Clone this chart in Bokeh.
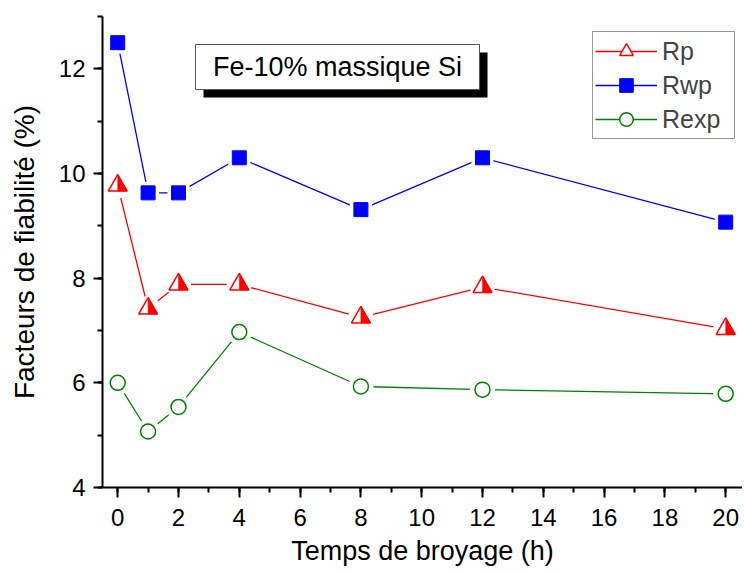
import math
from bokeh.plotting import figure
from bokeh.models import (Range1d, SingleIntervalTicker, Legend, LegendItem,
                          BoxAnnotation, Label)
from bokeh.embed import file_html
from bokeh.resources import INLINE

# ---- data ----
hours = [0, 1, 2, 4, 8, 12, 20]
rp = [9.77, 7.42, 7.88, 7.88, 7.25, 7.83, 7.03]
rwp = [12.5, 9.63, 9.63, 10.3, 9.31, 10.3, 9.07]
rexp = [6.0, 5.07, 5.54, 6.97, 5.93, 5.87, 5.79]
series_labels = ["Rp", "Rwp", "Rexp"]
title_text = "Fe-10% massique Si"
x_label = "Temps de broyage (h)"
y_label = "Facteurs de fiabilité (%)"

FONT = "Liberation Sans"
X0, X1 = -0.5, 20.553
Y0, Y1 = 4.0, 13.0
FW, FH = 640, 471
RED, BLUE, GREEN = "#ff0000", "#0000ff", "#008000"

p = figure(frame_width=FW, frame_height=FH, output_backend="svg",
           toolbar_location=None,
           x_range=Range1d(X0, X1), y_range=Range1d(Y0, Y1),
           min_border_left=102, min_border_right=0, min_border_top=16,
           min_border_bottom=79)
p.outline_line_color = None
p.background_fill_color = "white"
p.border_fill_color = "white"
p.xgrid.visible = False
p.ygrid.visible = False

for ax, tick_out in ((p.xaxis[0], 10), (p.yaxis[0], 9)):
    ax.ticker = SingleIntervalTicker(interval=2, num_minor_ticks=2)
    ax.axis_line_width = 2
    ax.major_tick_line_width = 2
    ax.minor_tick_line_width = 2
    ax.major_tick_out = tick_out
    ax.major_tick_in = 0
    ax.minor_tick_out = 5
    ax.minor_tick_in = 0
    ax.major_label_text_font = FONT
    ax.major_label_text_font_size = "24px"
    ax.major_label_text_color = "black"
    ax.axis_label_text_font = FONT
    ax.axis_label_text_font_style = "normal"
    ax.axis_label_text_color = "black"

p.xaxis.axis_label = x_label
p.xaxis.axis_label_text_font_size = "27px"
p.xaxis.major_label_standoff = 11
p.xaxis.axis_label_standoff = 7
p.yaxis.axis_label = y_label
p.yaxis.axis_label_text_font_size = "28px"
p.yaxis.major_label_standoff = 8
p.yaxis.axis_label_standoff = 16

# lines
l_rp = p.line(hours, rp, line_color=RED, line_width=1.3)
l_rwp = p.line(hours, rwp, line_color=BLUE, line_width=1.3)
l_rexp = p.line(hours, rexp, line_color=GREEN, line_width=1.3)

# white halos (gaps between line and markers)
p.scatter(hours, rp, marker="circle", size=25, fill_color="white", line_color=None)
p.scatter(hours, rwp, marker="square", size=22, fill_color="white", line_color=None)
p.scatter(hours, rexp, marker="circle", size=25, fill_color="white", line_color=None)

# markers
TRI = 19
m_rp = p.scatter(hours, rp, marker="triangle", size=TRI, fill_color="white",
                 line_color=RED, line_width=1.5)
# right half of the triangle filled
xpp = (X1 - X0) / FW
ypp = (Y1 - Y0) / FH
r = TRI / 2.0
h = r * math.sqrt(3)
a = h / 3.0
hx = [[xv, xv, xv + r * xpp] for xv in hours]
hy = [[yv + (h - a) * ypp, yv - a * ypp, yv - a * ypp] for yv in rp]
p.patches(hx, hy, fill_color=RED, line_color=RED, line_width=0.5)

m_rwp = p.scatter(hours, rwp, marker="square", size=14, fill_color=BLUE,
                  line_color=BLUE, line_width=1)
m_rexp = p.scatter(hours, rexp, marker="circle", size=15, fill_color="white",
                   line_color=GREEN, line_width=1.5)

legend = Legend(items=[
    LegendItem(label=series_labels[0], renderers=[l_rp, m_rp]),
    LegendItem(label=series_labels[1], renderers=[l_rwp, m_rwp]),
    LegendItem(label=series_labels[2], renderers=[l_rexp, m_rexp]),
], location=(490, 348))
legend.label_text_font = FONT
legend.label_text_font_size = "25px"
legend.glyph_width = 62
legend.glyph_height = 34
legend.spacing = -1
legend.padding = 2
legend.margin = 0
legend.label_standoff = 5
legend.label_width = 70
legend.border_line_color = "#333333"
legend.border_line_width = 1
legend.background_fill_alpha = 1
p.add_layout(legend, "center")

# title box with shadow
shadow = BoxAnnotation(left=203, right=487, top=52, bottom=97,
                       left_units="canvas", right_units="canvas",
                       top_units="canvas", bottom_units="canvas",
                       fill_color="black", fill_alpha=1, line_color=None)
box = BoxAnnotation(left=195, right=479, top=44, bottom=89,
                    left_units="canvas", right_units="canvas",
                    top_units="canvas", bottom_units="canvas",
                    fill_color="white", fill_alpha=1, line_color="#555555",
                    line_alpha=1, line_width=1)
p.add_layout(shadow)
p.add_layout(box)
p.add_layout(Label(x=235, y=420.5, x_units="screen", y_units="screen",
                   text=title_text, text_align="center", text_baseline="middle",
                   text_font=FONT, text_font_size="27px", text_color="black"))

open("out.html", "w").write(file_html(p, INLINE))
